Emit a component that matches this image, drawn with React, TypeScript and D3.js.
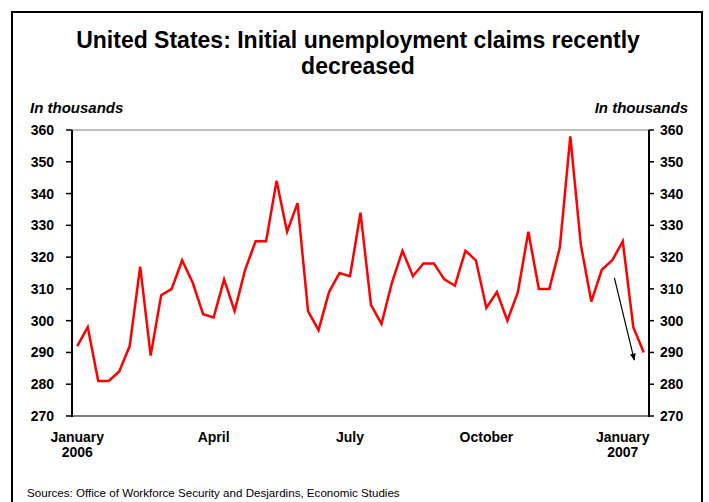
import React from "react";
import * as d3 from "d3";

const claims: number[] = [
  292, 298, 281, 281, 284, 292, 317, 289, 308, 310, 319, 312, 302, 301, 313, 303,
  316, 325, 325, 344, 328, 337, 303, 297, 309, 315, 314, 334, 305, 299, 312, 322,
  314, 318, 318, 313, 311, 322, 319, 304, 309, 300, 309, 328, 310, 310, 323, 358,
  324, 306, 316, 319, 325, 298, 290,
];
const yTicks: number[] = [270, 280, 290, 300, 310, 320, 330, 340, 350, 360];
const xLabels: { index: number; lines: string[] }[] = [
  { index: 0, lines: ["January", "2006"] },
  { index: 13, lines: ["April"] },
  { index: 26, lines: ["July"] },
  { index: 39, lines: ["October"] },
  { index: 52, lines: ["January", "2007"] },
];
const arrowFrom = { index: 51.2, value: 313.5 };
const arrowTo = { index: 53.1, value: 287.6 };
const titleLines = ["United States: Initial unemployment claims recently", "decreased"];
const unitLabel = "In thousands";
const sourceText = "Sources: Office of Workforce Security and Desjardins, Economic Studies";

export default function App() {
  const W = 709, H = 502;
  const L = 72, R = 649, T = 130, B = 416;
  const idx = claims.map((_, i) => i);
  const x = d3.scalePoint<number>().domain(idx).range([L, R]).padding(0.5);
  const xi = d3.scaleLinear().domain([0, claims.length - 1]).range([x(0)!, x(claims.length - 1)!]);
  const y = d3.scaleLinear().domain([270, 360]).range([B, T]);
  const line = d3.line<number>().x((_, i) => x(i)!).y((d) => y(d));
  const font = "Arial, 'Liberation Sans', Helvetica, sans-serif";

  const ax1 = xi(arrowFrom.index), ay1 = y(arrowFrom.value);
  const ax2 = xi(arrowTo.index), ay2 = y(arrowTo.value);

  return (
    <svg width={W} height={H} style={{ position: "absolute", left: 0, top: 0 }} fontFamily={font}>
      <defs>
        <marker id="arr" viewBox="0 0 10 10" refX="9" refY="5" markerWidth="6" markerHeight="6" orient="auto">
          <path d="M0,1 L10,5 L0,9 Z" fill="#000" />
        </marker>
      </defs>
      <rect x={0} y={0} width={W} height={H} fill="#fff" />
      <rect x={12} y={12} width={690} height={520} fill="none" stroke="#000" strokeWidth={2} />
      {titleLines.map((t, i) => (
        <text key={i} x={358} y={48 + i * 26} textAnchor="middle" fontSize={23} fontWeight="bold" fill="#000">
          {t}
        </text>
      ))}
      <text x={30} y={113} fontSize={15} fontWeight="bold" fontStyle="italic">{unitLabel}</text>
      <text x={688} y={113} fontSize={15} fontWeight="bold" fontStyle="italic" textAnchor="end">{unitLabel}</text>
      <line x1={L} x2={R} y1={T} y2={T} stroke="#808080" strokeWidth={1} />
      <line x1={L} x2={R} y1={B} y2={B} stroke="#808080" strokeWidth={2} />
      <line x1={L} x2={L} y1={T} y2={B + 1} stroke="#000" strokeWidth={2} />
      <line x1={R} x2={R} y1={T} y2={B + 1} stroke="#000" strokeWidth={2} />
      {yTicks.map((v) => (
        <g key={v}>
          <line x1={L - 6} x2={L} y1={y(v)} y2={y(v)} stroke="#000" strokeWidth={1.5} />
          <line x1={R} x2={R + 5} y1={y(v)} y2={y(v)} stroke="#000" strokeWidth={1.5} />
          <text x={54} y={y(v) + 5} textAnchor="end" fontSize={14} fontWeight="bold">{v}</text>
          <text x={660} y={y(v) + 5} textAnchor="start" fontSize={14} fontWeight="bold">{v}</text>
        </g>
      ))}
      {xLabels.map((lab) => (
        <text key={lab.index} x={x(lab.index)!} y={442} textAnchor="middle" fontSize={14} fontWeight="bold">
          {lab.lines.map((ln, j) => (
            <tspan key={j} x={x(lab.index)!} dy={j === 0 ? 0 : 15}>{ln}</tspan>
          ))}
        </text>
      ))}
      <path d={line(claims) || ""} fill="none" stroke="#ff0000" strokeWidth={2.5} strokeLinejoin="miter" />
      <line x1={ax1} y1={ay1} x2={ax2} y2={ay2} stroke="#000" strokeWidth={1.2} markerEnd="url(#arr)" />
      <text x={27} y={497} fontSize={11.6} fill="#000">{sourceText}</text>
    </svg>
  );
}
